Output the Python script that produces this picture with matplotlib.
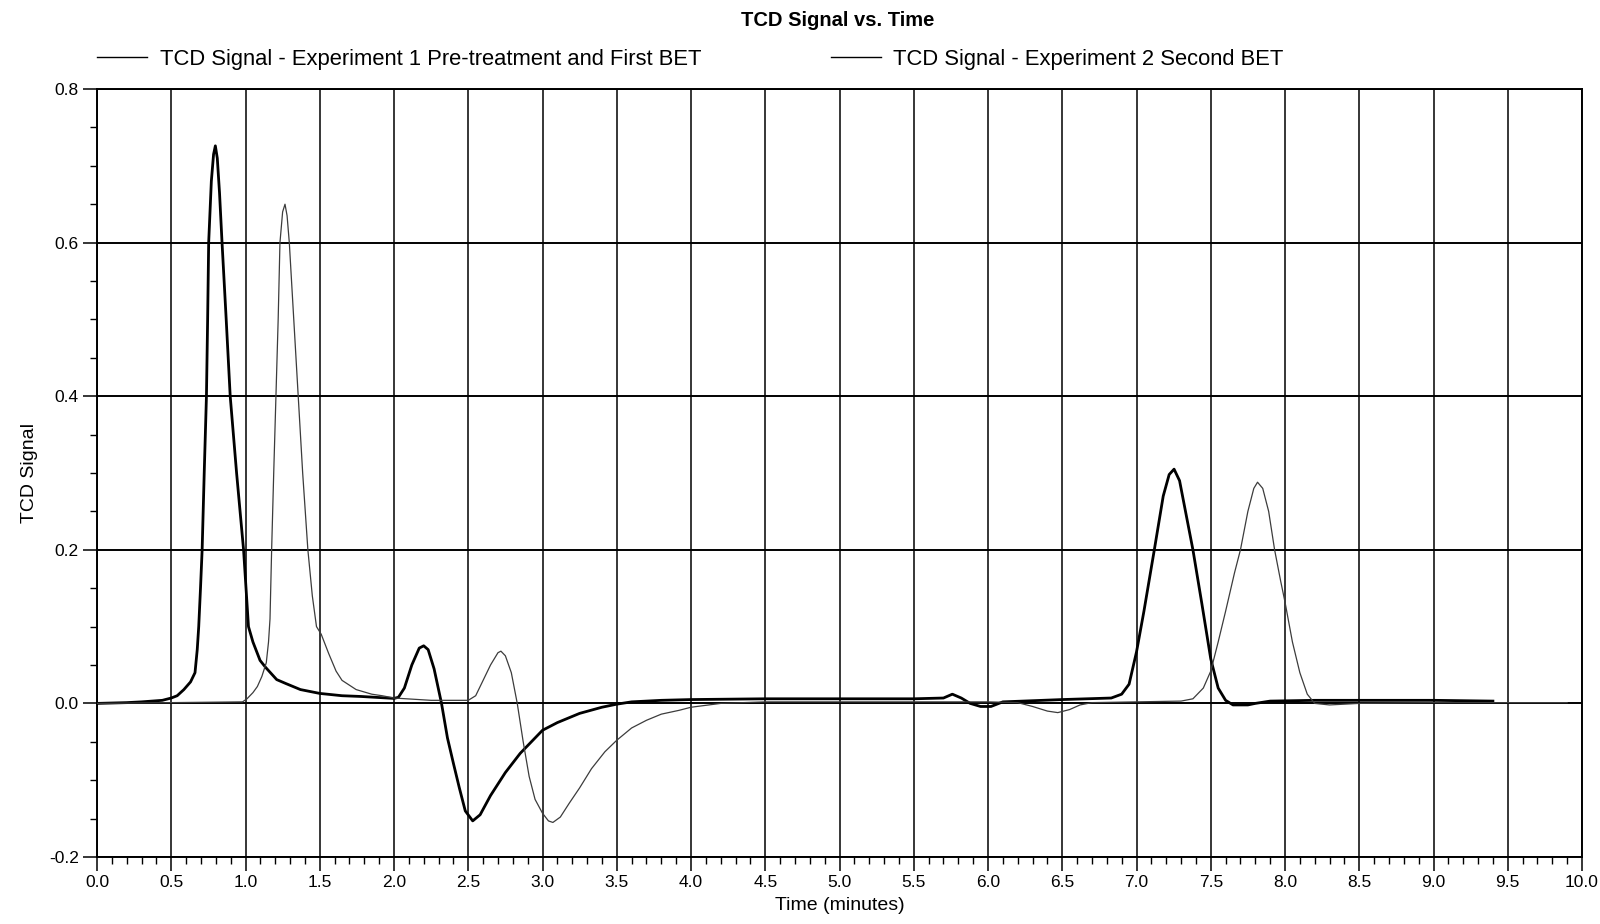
import matplotlib
matplotlib.use("Agg")
import matplotlib.pyplot as plt
from matplotlib.ticker import MultipleLocator

plt.rcParams['font.family'] = ['Liberation Sans', 'DejaVu Sans']

title = "TCD Signal vs. Time"
xlabel = "Time (minutes)"
ylabel = "TCD Signal"
label1 = "TCD Signal - Experiment 1 Pre-treatment and First BET"
label2 = "TCD Signal - Experiment 2 Second BET"

exp1_time = [0.0, 0.2, 0.3, 0.44, 0.5, 0.54, 0.585, 0.63, 0.66, 0.675, 0.685, 0.697, 0.708,
             0.722, 0.737, 0.745, 0.752, 0.77, 0.785, 0.797, 0.81, 0.825, 0.842, 0.87, 0.897,
             0.94, 0.987, 1.02, 1.05, 1.098, 1.135, 1.21, 1.27, 1.37, 1.5, 1.65, 1.78, 2.0,
             2.03, 2.07, 2.12, 2.17, 2.20, 2.23, 2.27, 2.32, 2.36, 2.40, 2.44, 2.48, 2.53,
             2.58, 2.65, 2.75, 2.85, 2.95, 3.0, 3.1, 3.25, 3.4, 3.5, 3.6, 3.8, 4.0, 4.5, 5.0,
             5.5, 5.7, 5.76, 5.82, 5.88, 5.95, 6.02, 6.1, 6.5, 6.83, 6.9, 6.95, 7.0, 7.05,
             7.12, 7.18, 7.22, 7.253, 7.29, 7.33, 7.38, 7.44, 7.5, 7.55, 7.6, 7.65, 7.75,
             7.8, 7.9, 8.2, 8.5, 9.0, 9.4]
exp1_signal = [0.0, 0.001, 0.002, 0.004, 0.007, 0.01, 0.018, 0.028, 0.04, 0.07, 0.1, 0.15, 0.2,
               0.3, 0.4, 0.5, 0.6, 0.68, 0.715, 0.726, 0.71, 0.665, 0.6, 0.5, 0.4,
               0.3, 0.2, 0.1, 0.08, 0.056, 0.047, 0.031, 0.026, 0.018, 0.013, 0.01, 0.009, 0.0065,
               0.008, 0.02, 0.05, 0.072, 0.075, 0.07, 0.045, 0.0, -0.045, -0.078, -0.11, -0.14, -0.153,
               -0.145, -0.12, -0.09, -0.065, -0.045, -0.035, -0.025, -0.013, -0.005, -0.001, 0.002, 0.004, 0.005, 0.006, 0.006,
               0.006, 0.007, 0.012, 0.007, 0.0, -0.004, -0.004, 0.002, 0.005, 0.007, 0.012, 0.025, 0.067, 0.12,
               0.2, 0.27, 0.298, 0.305, 0.29, 0.25, 0.2, 0.13, 0.058, 0.02, 0.004, -0.002, -0.002,
               0.0, 0.003, 0.004, 0.004, 0.004, 0.003]

exp2_time = [0.0, 0.5, 0.98, 1.01, 1.05, 1.08, 1.11, 1.14, 1.155, 1.165, 1.176, 1.19, 1.205,
             1.22, 1.232, 1.25, 1.266, 1.28, 1.295, 1.325, 1.355, 1.385, 1.42, 1.45, 1.478,
             1.51, 1.56, 1.61, 1.65, 1.745, 1.85, 1.92, 2.0, 2.25, 2.5, 2.55, 2.6, 2.65, 2.7,
             2.72, 2.75, 2.79, 2.83, 2.87, 2.91, 2.95, 3.0, 3.04, 3.07, 3.12, 3.18, 3.25, 3.33,
             3.42, 3.5, 3.6, 3.7, 3.8, 3.92, 4.0, 4.2, 4.5, 5.5, 6.0, 6.2, 6.3, 6.4, 6.47,
             6.55, 6.62, 6.7, 7.0, 7.3, 7.38, 7.45, 7.5, 7.55, 7.6, 7.66, 7.70, 7.75, 7.79,
             7.815, 7.85, 7.89, 7.93, 7.97, 8.0, 8.05, 8.1, 8.15, 8.2, 8.3, 8.5, 9.0, 9.5, 9.9]
exp2_signal = [0.0, 0.001, 0.002, 0.006, 0.014, 0.022, 0.035, 0.053, 0.08, 0.11, 0.2, 0.3, 0.4,
               0.5, 0.6, 0.64, 0.65, 0.635, 0.6, 0.5, 0.4, 0.3, 0.2, 0.14, 0.1,
               0.09, 0.065, 0.042, 0.03, 0.018, 0.012, 0.01, 0.007, 0.004, 0.004, 0.01, 0.03, 0.05, 0.066,
               0.068, 0.062, 0.04, 0.0, -0.05, -0.095, -0.125, -0.143, -0.153, -0.155, -0.148, -0.13, -0.11, -0.085,
               -0.063, -0.048, -0.032, -0.022, -0.014, -0.009, -0.005, 0.0, 0.002, 0.002, 0.002, 0.001, -0.004, -0.01, -0.012,
               -0.008, -0.002, 0.001, 0.002, 0.003, 0.006, 0.02, 0.042, 0.08, 0.12, 0.17, 0.2, 0.25, 0.28,
               0.288, 0.28, 0.25, 0.2, 0.16, 0.132, 0.08, 0.04, 0.012, 0.0, -0.002, 0.0, 0.001, 0.001, 0.001]

fig = plt.figure(figsize=(16, 9.24), dpi=100)
ax = fig.add_axes([97 / 1600, 1 - 857 / 924, (1582 - 97) / 1600, (857 - 89) / 924])

ax.plot(exp1_time, exp1_signal, color='black', lw=2.0, label=label1, zorder=3)
ax.plot(exp2_time, exp2_signal, color='#3c3c3c', lw=0.9, label=label2, zorder=3)

ax.set_xlim(0, 10)
ax.set_ylim(-0.2, 0.8)
ax.xaxis.set_major_locator(MultipleLocator(0.5))
ax.xaxis.set_minor_locator(MultipleLocator(0.1))
ax.yaxis.set_major_locator(MultipleLocator(0.2))
ax.yaxis.set_minor_locator(MultipleLocator(0.05))
ax.xaxis.set_major_formatter(plt.FuncFormatter(lambda v, p: f"{v:.1f}"))
ax.yaxis.set_major_formatter(plt.FuncFormatter(lambda v, p: f"{v:.1f}"))

ax.grid(True, which='major', axis='x', color='black', lw=1.1)
ax.grid(True, which='major', axis='y', color='black', lw=1.4)
ax.set_axisbelow(True)
for s in ax.spines.values():
    s.set_linewidth(1.4)

ax.tick_params(axis='both', which='major', direction='out', length=10, width=1.1,
               labelsize=12.5, pad=3)
ax.tick_params(axis='both', which='minor', direction='out', length=5, width=1.0)

ax.set_xlabel(xlabel, fontsize=14, labelpad=5)
ax.set_ylabel(ylabel, fontsize=14, labelpad=8)

fig.text(838 / 1600, 1 - 20 / 924, title, fontsize=14.5, fontweight='bold',
         ha='center', va='center')

leg = fig.legend(loc='center left', bbox_to_anchor=(97 / 1600, 1 - 59 / 924), ncol=2,
                 frameon=False, fontsize=15.8, handlelength=2.3, handletextpad=0.55,
                 columnspacing=5.9, borderpad=0, borderaxespad=0)
for h in leg.get_lines():
    h.set_linewidth(1.0)
    h.set_color('black')

fig.savefig("out.png", dpi=100)
